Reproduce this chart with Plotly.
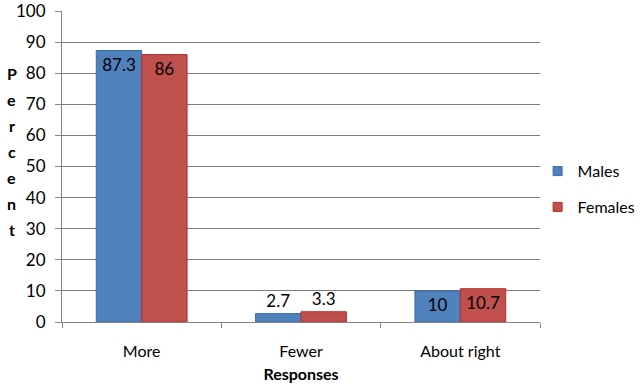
import plotly.graph_objects as go

categories = ["More", "Fewer", "About right"]
males = [87.3, 2.7, 10]
females = [86, 3.3, 10.7]
male_labels = ["87.3", "2.7", "10"]
female_labels = ["86", "3.3", "10.7"]
y_ticks = [0, 10, 20, 30, 40, 50, 60, 70, 80, 90, 100]

font_family = "Lato, 'Open Sans', Arial, sans-serif"
male_color = "#4F81BD"
female_color = "#C0504D"

def positions(vals):
    return ["inside" if v > 8 else "outside" for v in vals]

fig = go.Figure()
fig.add_trace(go.Bar(
    name="Males", x=categories, y=males, text=male_labels,
    textposition=positions(males), insidetextanchor="end",
    textfont=dict(color="black", size=17, family=font_family),
    outsidetextfont=dict(color="black", size=17, family=font_family),
    marker=dict(color=male_color, line=dict(color="#3A6CA6", width=1)),
    cliponaxis=False, showlegend=False,
))
fig.add_trace(go.Bar(
    name="Females", x=categories, y=females, text=female_labels,
    textposition=positions(females), insidetextanchor="end",
    textfont=dict(color="black", size=17, family=font_family),
    outsidetextfont=dict(color="black", size=17, family=font_family),
    marker=dict(color=female_color, line=dict(color="#B2302C", width=1)),
    cliponaxis=False, showlegend=False,
))
# legend entries with small square keys
fig.add_trace(go.Scatter(
    name="Males", x=[None], y=[None], mode="markers", legendgroup="m",
    marker=dict(symbol="square", size=9, color=male_color, line=dict(color="#3A6CA6", width=1)),
))
fig.add_trace(go.Scatter(
    name="Females", x=[None], y=[None], mode="markers", legendgroup="f",
    marker=dict(symbol="square", size=9, color=female_color, line=dict(color="#B2302C", width=1)),
))

# Vertical stacked y-axis title
title_letters = list("Percent")
for i, ch in enumerate(title_letters):
    fig.add_annotation(
        text=f"<b>{ch}</b>", xref="paper", yref="paper",
        x=-0.105, y=0.80 - i * 0.084, xanchor="center", yanchor="middle",
        showarrow=False, font=dict(size=16, color="black", family=font_family),
    )

fig.update_layout(
    width=640, height=384,
    margin=dict(l=62, r=100, t=11, b=62, autoexpand=False),
    paper_bgcolor="white", plot_bgcolor="white",
    barmode="group", bargap=0.43, bargroupgap=0,
    font=dict(family=font_family, size=16, color="black"),
    showlegend=True,
    legend=dict(x=0.995, y=0.427, xanchor="left", yanchor="middle",
                font=dict(size=16, color="black", family=font_family),
                tracegroupgap=12, bgcolor="rgba(0,0,0,0)"),
    xaxis=dict(
        automargin=False,
        showline=True, linecolor="#868686", linewidth=1,
        ticks="outside", ticklen=5, tickcolor="#868686", tickson="boundaries",
        tickfont=dict(size=16, color="black"), ticklabelstandoff=15,
        title=dict(text="<b>Responses</b>", font=dict(size=16, color="black"), standoff=9),
    ),
    yaxis=dict(
        automargin=False, ticklabeloverflow="allow",
        range=[0, 100], tickvals=y_ticks, showgrid=True, gridcolor="#7A7A7A", gridwidth=1,
        showline=True, linecolor="#868686", linewidth=1,
        ticks="outside", ticklen=6, tickcolor="#868686",
        tickfont=dict(size=17, color="black"), ticklabelstandoff=6,
        zeroline=False,
    ),
)

fig.write_html("out.html", config={"displayModeBar": False},
               post_script="document.body.style.margin='0';")
